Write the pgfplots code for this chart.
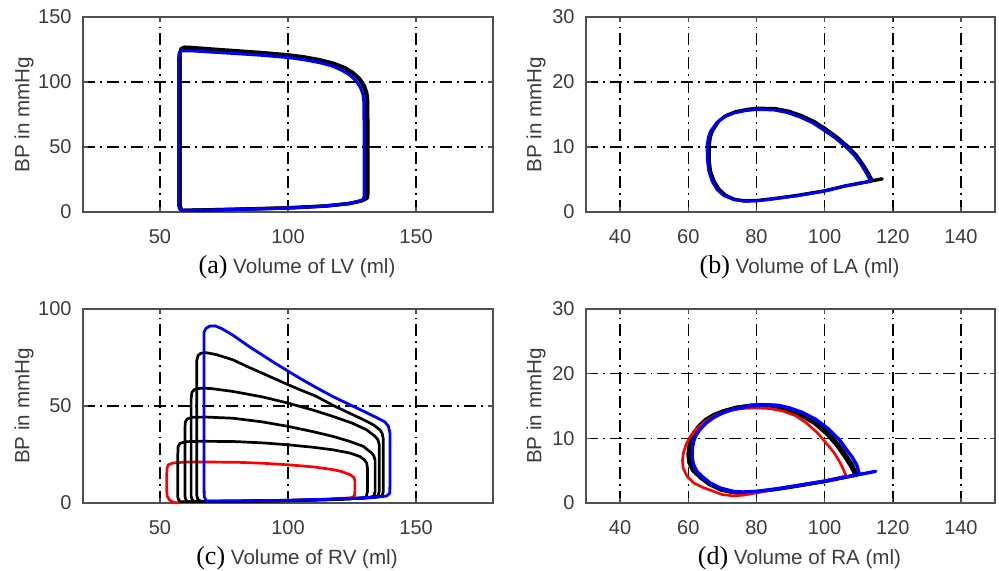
\documentclass[border=0pt]{standalone}
\usepackage{pgfplots}
\pgfplotsset{compat=1.18}
\usepackage{fontspec}
\setmainfont{Liberation Sans}
\newfontfamily\capserif{Liberation Serif}

\definecolor{txt}{RGB}{60,60,60}
\definecolor{frame}{RGB}{80,80,80}
\definecolor{mblue}{RGB}{0,0,255}
\definecolor{mred}{RGB}{255,0,0}

\pgfplotsset{
  loopaxis/.style={
    scale only axis,
    anchor=south west,
    axis line style={draw=frame, line width=0.9pt},
    grid=major,
    major grid style={black, line width=0.75pt, dash pattern=on 6pt off 2.5pt on 0.9pt off 2.5pt},
    tick align=inside, tick pos=both, major tick length=2.5pt,
    tick style={frame, line width=0.7pt},
    /pgf/number format/assume math mode=true,
    every tick label/.append style={font=\fontsize{10}{12}\selectfont, text=txt},
    xticklabel style={inner sep=0pt, anchor=base, yshift=-16pt},
    yticklabel style={inner sep=0pt, anchor=east, xshift=-5.5pt},
    ylabel={BP in mmHg},
    label style={font=\fontsize{10.3}{12}\selectfont, text=txt},
    xlabel style={at={([xshift=4.5pt,yshift=-31pt]axis description cs:0.5,0)}, anchor=base},
    every axis plot/.append style={line join=round, line cap=round, no marks},
  },
  lvaxis/.style={loopaxis, width=205pt, xmin=20, xmax=180, xtick={50,100,150},
    ylabel style={at={([xshift=-29.5pt]axis description cs:0,0.5)}, anchor=center}},
  laaxis/.style={loopaxis, width=204.5pt, xmin=30, xmax=150, xtick={40,60,...,140},
    ymin=0, ymax=30, ytick={0,10,20,30},
    ylabel style={at={([xshift=-25pt]axis description cs:0,0.5)}, anchor=center}},
}
\newcommand{\panelcap}[2]{{\color{black}\capserif\fontsize{13}{15}\selectfont (#1)} #2}

\begin{document}
\begin{tikzpicture}
\path[use as bounding box] (0,0) rectangle (499.5pt,285.5pt);

% ---------------- left ventricle ----------------
\begin{axis}[lvaxis, at={(41.5pt,179.5pt)}, height=97.5pt,
  ymin=0, ymax=150, ytick={0,50,100,150},
  xlabel={\panelcap{a}{Volume of LV (ml)}}]
\addplot[black, line width=1.7pt] coordinates {
(58.5,1.2) (85,2.4) (100,3.2) (115,4.7) (124,6.6) (128.8,8.6) (130.9,10.6) (131.2,14)
(131.2,50) (131.1,86) (130.7,92) (129.7,97.5) (128,102.5) (125.4,107.2) (122.2,111)
(117.8,114.4) (112.2,117.2) (106,119.4) (100,120.9) (90,122.6) (80,124) (70,125.4)
(62,126.6) (59.5,126.8) (58.3,125.6) (57.8,122) (57.8,60) (57.8,5) (58.5,1.2)};
\addplot[black, line width=1.7pt] coordinates {
(58.5,1.2) (85,2.3) (100,3.1) (115,4.6) (124,6.5) (128.5,8.5) (130.5,10.5) (130.8,14)
(130.8,50) (130.7,86) (130.3,92) (129.3,97.5) (127.6,102.5) (125,107) (121.8,110.8)
(117.5,114) (112,116.6) (106,118.8) (100,120.3) (90,122) (80,123.4) (70,124.7)
(62,125.8) (59.5,126) (58.3,125) (57.8,122) (57.8,60) (57.8,5) (58.5,1.2)};
\addplot[mblue, line width=1.5pt] coordinates {
(58.5,1.2) (70,1.5) (85,2.2) (100,3.0) (112,4.2) (122,6.0) (127,7.8) (129.2,9.5)
(129.7,12) (129.7,30) (129.7,60) (129.6,85) (129.2,91) (128.2,96) (126.5,101)
(124,105.5) (121,109) (117,112.5) (112,115) (106,117.2) (100,118.8) (90,120.5)
(80,121.8) (70,123) (62,124) (58.5,124) (57.5,122.5) (57.3,118) (57.3,60) (57.3,5)
(57.6,2.5) (58.5,1.2)};
\end{axis}

% ---------------- left atrium ----------------
\begin{axis}[laaxis, at={(293pt,179.5pt)}, height=97.5pt,
  xlabel={\panelcap{b}{Volume of LA (ml)}}]
\addplot[black, line width=1.7pt] coordinates {
(116.9,5.1) (114,4.8) (106,4.0) (100,3.25) (92,2.55) (85,2.05) (80,1.75) (76.5,1.7)
(73.5,1.95) (71,2.55) (69,3.5) (67.5,4.8) (66.5,6.3) (66.1,8) (66.1,10.2) (66.5,11.6)
(67.2,12.6) (69,14) (71,14.8) (73.8,15.4) (77.5,15.8) (80.5,15.95) (85.5,15.9)
(89.5,15.5) (93.3,14.8) (97,13.9) (100.5,12.7) (103.9,11.4) (107,10) (109.2,8.8)
(111,7.5) (112.7,6.1) (113.8,5.0)};
\addplot[mblue, line width=1.4pt] coordinates {
(113.5,4.7) (106,4.0) (100,3.2) (92,2.5) (85,2.0) (80,1.7) (76.5,1.65) (73.3,1.9)
(70.5,2.5) (68.5,3.4) (67,4.7) (66,6.3) (65.6,8) (65.5,10.2) (65.9,11.5) (66.5,12.4)
(68.4,13.8) (70.5,14.6) (73.3,15.2) (77,15.6) (80,15.75) (85,15.7) (89,15.3)
(92.8,14.6) (96.5,13.7) (100,12.5) (103.3,11.3) (106.4,9.9) (108.5,8.8) (110.3,7.6)
(112,6.2) (113.5,4.7)};
\end{axis}

% ---------------- right ventricle ----------------
\begin{axis}[lvaxis, at={(41.5pt,34pt)}, height=97pt,
  ymin=0, ymax=100, ytick={0,50,100},
  xlabel={\panelcap{c}{Volume of RV (ml)}}]
\addplot[mred, line width=1.35pt] coordinates {
(56,0.1) (70,0.5) (85,0.9) (100,1.3) (112,1.8) (120,2.3) (124.8,2.7) (125.9,3.6)
(126.1,6) (126.1,11.5) (125.7,13.2) (124.2,14.6) (121,16.2) (117.6,17.2) (110,18.6)
(100,19.7) (90,20.5) (80,21) (70,21.1) (60,21.1) (55,20.6) (53.3,19.7) (52.8,18)
(52.7,15) (52.7,6) (52.9,3.4) (53.8,1.5) (55,0.5) (56,0.1)};
\addplot[black, line width=1.35pt] coordinates {
(58.3,0.6) (85,0.9) (100,1.1) (115,1.6) (124,2.1) (129.3,2.6) (130.6,3.3) (131.0,6)
(131.0,18) (130.7,20.6) (129.8,22.3) (128,24) (124,25.8) (117.6,27.4) (110,28.7)
(100,30) (90,31) (78.5,31.7) (66,31.8) (60,31.6) (57.8,30.7) (57.1,29) (57,25)
(57,10) (57,3) (57.4,1.4) (58.3,0.6)};
\addplot[black, line width=1.35pt] coordinates {
(61,0.7) (85,0.95) (100,1.2) (115,1.7) (126,2.3) (131.5,2.8) (133.5,3.5) (134.0,6)
(134.0,22) (133.5,24.3) (132.7,25.7) (129.4,29.2) (124,31.8) (117.6,34.3) (110,36.7)
(100,39.5) (90,41.8) (78.5,43.7) (68,44.3) (62.5,44.2) (60.6,43.3) (59.9,41.5)
(59.8,38) (59.8,15) (59.8,3.3) (60.2,1.5) (61,0.7)};
\addplot[black, line width=1.35pt] coordinates {
(63.5,0.8) (85,1.0) (100,1.3) (115,1.8) (127,2.4) (133,2.8) (135.1,3.6) (135.6,6)
(135.6,30) (135.1,32.6) (134,34.3) (130.7,37.7) (125,41.2) (117.6,44.6) (110,47.8)
(100,51.5) (90,54.7) (78.5,57.5) (70,59) (66,59.2) (63.5,58.5) (62.5,57) (62.2,54)
(62.2,20) (62.2,3.5) (62.6,1.6) (63.5,0.8)};
\addplot[black, line width=1.35pt] coordinates {
(66,0.9) (85,1.1) (100,1.4) (115,1.8) (128,2.4) (134.5,2.9) (136.7,3.7) (137.2,6)
(137.2,33) (136.7,36) (135.9,37.7) (133.3,40.3) (129,43.2) (124,46.3) (117.6,50.3)
(111,55) (105,58.2) (100,61) (91.5,66) (85,69.8) (78.5,73.8) (72,76.5) (68,77.5)
(66,77.2) (64.9,76) (64.4,73.5) (64.4,40) (64.4,4) (64.8,1.8) (66,0.9)};
\addplot[mblue, line width=1.4pt] coordinates {
(68.5,1.0) (85,1.1) (100,1.4) (115,1.9) (128,2.6) (135,3.1) (138.5,3.6) (139.7,5)
(139.8,10) (139.8,36) (139.2,39.5) (137.8,41.8) (134.6,44) (130,47) (124.2,50.6)
(117,55.2) (111,59.5) (105,64) (100,68) (95,72) (91.5,75) (85,80.5) (78.5,86.5)
(74,90) (71.5,91.3) (69.5,91.2) (68,90) (67.2,88) (67.2,60) (67.2,10) (67.3,3.5)
(67.8,1.7) (68.5,1.0)};
\end{axis}

% ---------------- right atrium ----------------
\begin{axis}[laaxis, at={(293pt,34pt)}, height=97pt,
  xlabel={\panelcap{d}{Volume of RA (ml)}}]
\addplot[black, line width=1.6pt] coordinates {
(109,4.3) (100,3.3) (92,2.6) (86,2.1) (80,1.7) (76,1.5) (73,1.6) (69.5,2.0) (66,2.9)
(63.5,3.9) (61.3,5.0) (60.2,6.2) (59.9,7.4) (60.1,8.6) (60.6,9.8) (61.6,10.9)
(63,11.9) (65,12.9) (67.5,13.7) (70.5,14.3) (74,14.8) (78.5,15.1) (82,15.1)
(85.5,14.9) (89,14.4) (93,13.5) (97,12.3) (100.5,10.7) (103.5,8.9) (105.8,7.2)
(107.5,5.8) (108.7,4.6)};
\addplot[black, line width=1.6pt] coordinates {
(109.6,4.35) (100,3.35) (92,2.65) (86,2.15) (80,1.75) (76,1.6) (73,1.7) (69.5,2.15)
(66.2,3.0) (63.8,4.0) (61.8,5.0) (60.7,6.2) (60.4,7.4) (60.6,8.6) (61.1,9.7)
(62.1,10.7) (63.4,11.7) (65.3,12.7) (67.7,13.5) (70.7,14.2) (74.2,14.8) (78.7,15.15)
(82.4,15.2) (86,15.0) (89.4,14.6) (93.3,13.8) (97.3,12.6) (100.8,11.0) (103.9,9.2)
(106.2,7.5) (108.1,6.0) (109.3,4.6)};
\addplot[mred, line width=1.3pt] coordinates {
(106.4,4.2) (100,3.4) (92.6,2.8) (86,2.2) (80,1.55) (76,1.2) (73.2,1.1) (70,1.3)
(67.4,1.8) (64.3,2.4) (61.6,3.1) (59.7,4.1) (58.5,5.4) (58.3,6.6) (58.6,7.8)
(59.4,9.1) (60.6,10.3) (62.3,11.4) (64.5,12.4) (67.5,13.4) (71.3,14.2) (75.5,14.6)
(80,14.7) (84,14.6) (87.8,14.2) (91.5,13.5) (94.6,12.4) (97.8,10.9) (100.4,9.3)
(102.6,7.9) (104.3,6.5) (105.5,5.2) (106.2,4.3)};
\addplot[mblue, line width=1.7pt] coordinates {
(115,4.9) (110.1,4.4) (105,3.9) (100,3.4) (92,2.7) (86,2.2) (80,1.8) (76,1.7)
(73.2,1.8) (69.5,2.3) (66.4,3.1) (64.3,4) (62.5,4.9) (61.5,6) (61.1,7.2) (61.2,8.5)
(61.6,9.6) (62.3,10.5) (63.5,11.4) (65.3,12.4) (67.4,13.2) (70,13.9) (73.2,14.5)
(78,15) (83,15.2) (86.5,15.1) (89.7,14.7) (93.5,14) (97.5,12.9) (101,11.5)
(104.3,9.8) (106.5,8.2) (108.2,7.0) (109.5,5.8) (110.1,4.6)};
\end{axis}
\end{tikzpicture}
\end{document}
